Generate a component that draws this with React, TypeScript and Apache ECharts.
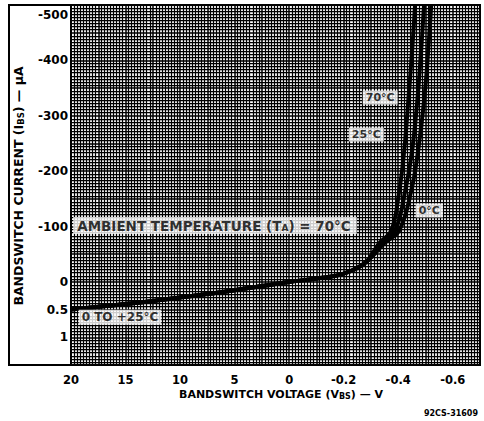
import React, { useEffect, useRef } from "react";
import * as echarts from "echarts";

// Piecewise axis ticks (as printed on the datasheet)
const xTickValues = [20, 15, 10, 5, 0, -0.2, -0.4, -0.6];
const xTickLabels = ["20", "15", "10", "5", "0", "-0.2", "-0.4", "-0.6"];
const yTickValues = [1, 0.5, 0, -100, -200, -300, -400, -500];
const yTickLabels = ["1", "0.5", "0", "-100", "-200", "-300", "-400", "-500"];

// Shared low-current part of the curves (0 TO +25°C region)
const commonV = [20, 15, 10, 5, 0, -0.1, -0.2, -0.28];
const commonI = [0.5, 0.4, 0.28, 0.15, 0, -6, -15, -35];

// Branches (µA region)
const branchI = [-70, -93, -165, -237, -327, -418, -500];
const v70 = [-0.33, -0.375, -0.404, -0.422, -0.437, -0.451, -0.462];
const v25 = [-0.34, -0.389, -0.426, -0.451, -0.47, -0.484, -0.495];
const v0 = [-0.35, -0.404, -0.448, -0.473, -0.495, -0.51, -0.521];

// Curve labels: text, voltage, current
const labelTexts = ["70°C", "25°C", "0°C"];
const labelV = [-0.334, -0.283, -0.514];
const labelI = [-333, -266, -129];

const ambientText = "AMBIENT TEMPERATURE (T{sub|A}) = 70°C";
const ambientV = 19.8;
const ambientI = -102;
const lowText = "0 TO +25°C";
const lowV = 19.3;
const lowI = 0.64;

const yTitle = "BANDSWITCH CURRENT (I{sub|BS}) — µA";
const xTitle = "BANDSWITCH VOLTAGE (V{sub|BS}) — V";
const footer = "92CS-31609";

// Broken scales: voltage 20..0 then 0..-0.6 V ; current 1.5..0 then 0..-500 µA
const toX = (v: number) => (v >= 0 ? (20 - v) / 5 : 4 + -v / 0.2);
const toY = (i: number) => (i <= 0 ? 1.5 + -i / 100 : 1.5 - i);

const FONT = "DejaVu Sans";

export default function App() {
  const ref = useRef<HTMLDivElement>(null);
  useEffect(() => {
    if (!ref.current) return;
    const chart = echarts.init(ref.current, undefined, { renderer: "svg" });
    const curve = (vs: number[], is: number[]) =>
      commonV.concat(vs).map((v, k) => [toX(v), toY(commonI.concat(is)[k])]);
    const lineStyle = { color: "#000", width: 4 };
    const mkLine = (name: string, vs: number[]) => ({
      name,
      type: "line",
      data: curve(vs, branchI),
      smooth: 0.4,
      showSymbol: false,
      lineStyle,
      z: 3,
    });
    const labelBox = {
      show: true,
      color: "#000",
      fontFamily: FONT,
      fontWeight: "bold",
      fontSize: 11,
      backgroundColor: "#fff",
      padding: [2, 3, 1, 3],
    };
    const subRich = (fs: number) => ({
      sub: { fontSize: fs, fontWeight: "bold", fontFamily: FONT, padding: [5, 0, 0, 0], fill: "#000", color: "#000" },
    });
    const gridLines = {
      splitLine: { show: true, lineStyle: { color: "#000", width: 1.5 } },
      minorSplitLine: { show: true, lineStyle: { color: "#000", width: 1.25 } },
      minorTick: { show: false, splitNumber: 9 },
      axisLine: { show: false },
      axisTick: { show: false },
    };
    chart.setOption({
      animation: false,
      backgroundColor: "#fff",
      grid: { left: 71, right: 4, top: 5, bottom: 56, show: true, borderColor: "#000", borderWidth: 2 },
      xAxis: {
        type: "value",
        min: 0,
        max: 7.5,
        interval: 0.5,
        ...gridLines,
        axisLabel: {
          color: "#000",
          fontFamily: FONT,
          fontWeight: "bold",
          fontSize: 11.5,
          margin: 9,
          formatter: (p: number) => {
            const k = xTickValues.findIndex((t) => Math.abs(toX(t) - p) < 1e-6);
            return k >= 0 ? xTickLabels[k] : "";
          },
        },
      },
      yAxis: {
        type: "value",
        min: 0,
        max: 6.5,
        interval: 0.5,
        ...gridLines,
        axisLabel: {
          color: "#000",
          fontFamily: FONT,
          fontWeight: "bold",
          fontSize: 12,
          margin: 3,
          formatter: (p: number) => {
            const k = yTickValues.findIndex((t) => Math.abs(toY(t) - p) < 1e-6);
            if (k < 0) return "";
            return p >= 6.5 ? "{top|" + yTickLabels[k] + "}" : yTickLabels[k];
          },
          rich: { top: { fontFamily: FONT, fontWeight: "bold", fontSize: 12, padding: [20, 0, 0, 0] } },
        },
      },
      graphic: [
        {
          type: "rect",
          shape: { x: 9, y: 5, width: 62, height: 360 },
          style: { fill: "none", stroke: "#000", lineWidth: 2 },
          silent: true,
        },
        {
          type: "text",
          x: 18,
          y: 186,
          rotation: Math.PI / 2,
          style: {
            text: yTitle,
            fill: "#000",
            font: "bold 12.5px 'DejaVu Sans'",
            align: "center",
            verticalAlign: "middle",
            rich: subRich(8.5),
          },
        },
        {
          type: "text",
          x: 281,
          y: 394,
          style: {
            text: xTitle,
            fill: "#000",
            font: "bold 11px 'DejaVu Sans'",
            align: "center",
            verticalAlign: "middle",
            rich: subRich(8),
          },
        },
        {
          type: "text",
          right: 6,
          bottom: 4,
          style: { text: footer, fill: "#000", font: "bold 8px 'DejaVu Sans'" },
        },
      ],
      series: [
        mkLine("70°C", v70),
        mkLine("25°C", v25),
        mkLine("0°C", v0),
        {
          type: "scatter",
          symbolSize: 0,
          z: 5,
          data: labelTexts.map((t, k) => ({ name: t, value: [toX(labelV[k]), toY(labelI[k])] })),
          label: { ...labelBox, position: "inside", formatter: "{b}" },
        },
        {
          type: "scatter",
          symbolSize: 0,
          z: 5,
          data: [{ name: ambientText, value: [toX(ambientV), toY(ambientI)] }],
          label: {
            ...labelBox,
            fontSize: 13.5,
            position: "right",
            distance: 0,
            formatter: "{b}",
            padding: [2, 6, 1, 4],
            rich: subRich(9),
          },
        },
        {
          type: "scatter",
          symbolSize: 0,
          z: 5,
          data: [{ name: lowText, value: [toX(lowV), toY(lowI)] }],
          label: { ...labelBox, fontSize: 12, position: "right", distance: 0, formatter: "{b}" },
        },
      ],
    });
    return () => chart.dispose();
  }, []);
  return <div ref={ref} style={{ width: 484, height: 421, position: "absolute", left: 0, top: 0 }} />;
}
